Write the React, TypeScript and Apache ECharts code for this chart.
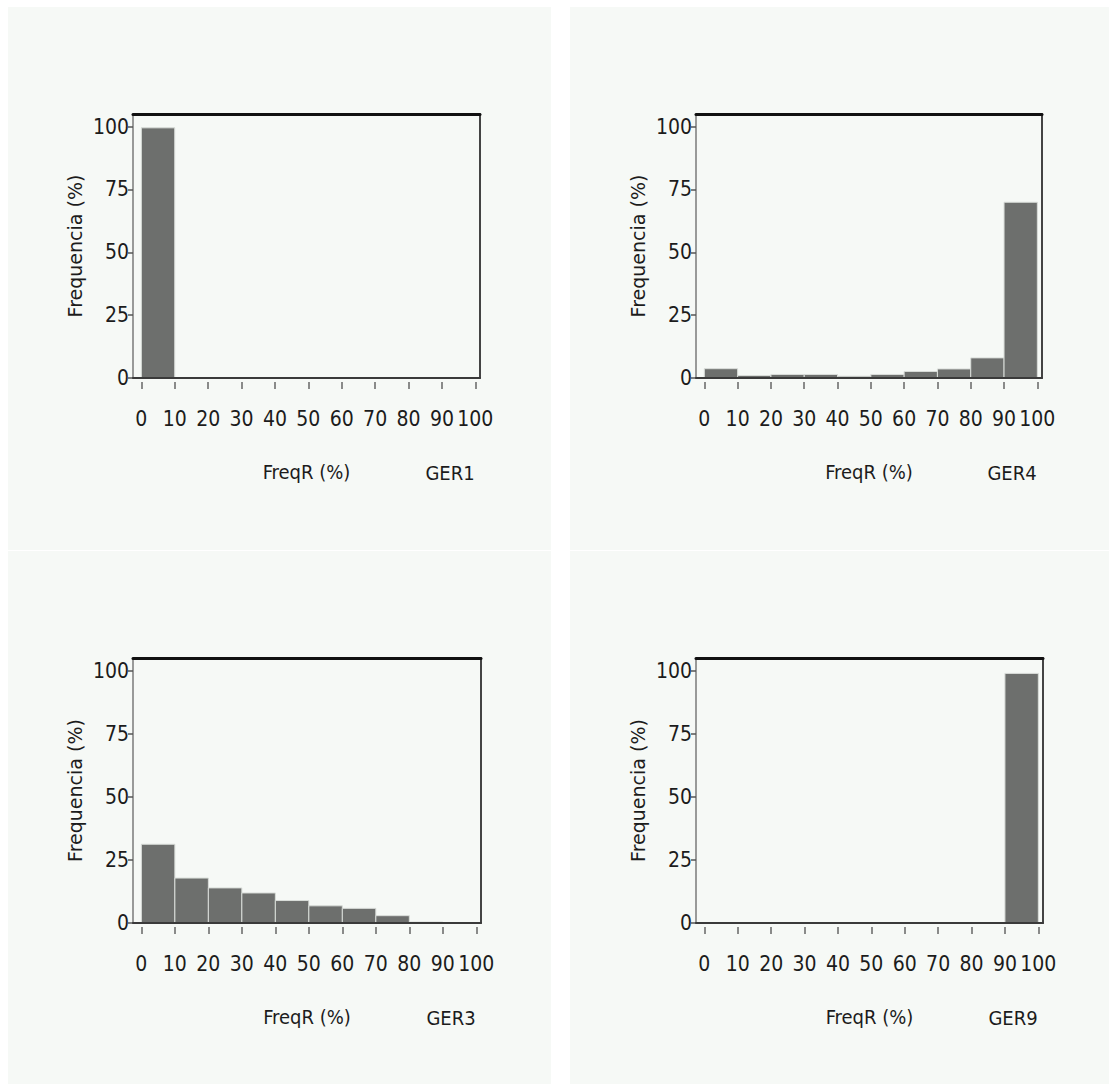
import React, { useEffect, useRef } from "react";
import * as echarts from "echarts";

// ---- data ----
const binStarts = [0, 10, 20, 30, 40, 50, 60, 70, 80, 90];
const binWidth = 10;
const xTickValues = [0, 10, 20, 30, 40, 50, 60, 70, 80, 90, 100];
const yTickValues = [0, 25, 50, 75, 100];
const ger1 = [99.5, 0, 0, 0, 0, 0, 0, 0, 0, 0];
const ger4 = [3.7, 1.0, 1.4, 1.4, 0.7, 1.4, 2.6, 3.6, 8.0, 69.9];
const ger3 = [31.2, 17.8, 13.9, 11.9, 8.9, 6.8, 5.8, 2.9, 0.4, 0.1];
const ger9 = [0, 0, 0, 0, 0, 0, 0, 0, 0, 98.9];
const panelNames = ["GER1", "GER4", "GER3", "GER9"];
const panelValues = [ger1, ger4, ger3, ger9];
const xAxisTitle = "FreqR (%)";
const yAxisTitle = "Frequencia (%)";

// ---- layout ----
const panelRects = [
  { x: 8, y: 7, w: 543, h: 543 },
  { x: 570, y: 7, w: 539, h: 543 },
  { x: 8, y: 551, w: 543, h: 533 },
  { x: 570, y: 551, w: 539, h: 533 },
];
const gridRects = [
  { left: 133, top: 114, width: 347, height: 264 },
  { left: 696, top: 114, width: 346, height: 264 },
  { left: 133, top: 658, width: 348, height: 265 },
  { left: 696, top: 658, width: 347, height: 265 },
];
const X_MIN = -2.5;
const X_MAX = 101.4;
const Y_MAX = 105;
const NARROW = "'DejaVu Sans Condensed', 'Liberation Sans Narrow', sans-serif";
const TEXT = "#1c1c1c";

export default function App() {
  const ref = useRef<HTMLDivElement>(null);
  useEffect(() => {
    if (!ref.current) return;
    const chart = echarts.init(ref.current, undefined, { renderer: "svg" });
    const grid: any[] = [];
    const xAxis: any[] = [];
    const yAxis: any[] = [];
    const series: any[] = [];
    const graphic: any[] = [];

    panelRects.forEach((p) => {
      graphic.push({
        type: "rect",
        z: -10,
        silent: true,
        shape: { x: p.x, y: p.y, width: p.w, height: p.h },
        style: { fill: "#f6f9f6" },
      });
    });

    gridRects.forEach((g, i) => {
      grid.push({ left: g.left, top: g.top, width: g.width, height: g.height, show: false });
      // bottom frame line
      xAxis.push({
        gridIndex: i, type: "value", min: X_MIN, max: X_MAX, position: "bottom",
        axisLine: { show: true, onZero: false, lineStyle: { color: "#3a3a3a", width: 2 } },
        axisTick: { show: false }, axisLabel: { show: false }, splitLine: { show: false },
        z: 5,
      });
      // ticks + labels, offset below frame
      xAxis.push({
        gridIndex: i, type: "value", min: X_MIN, max: X_MAX, position: "bottom", offset: 4,
        axisLine: { show: false, onZero: false },
        axisTick: { show: true, length: 7, customValues: xTickValues, lineStyle: { color: "#666", width: 1.5 } },
        axisLabel: { show: true, customValues: xTickValues, margin: 26, fontSize: 21, fontFamily: NARROW, color: TEXT },
        splitLine: { show: false },
        name: xAxisTitle, nameLocation: "middle", nameGap: 80,
        nameTextStyle: { fontSize: 20, fontFamily: NARROW, color: TEXT },
      });
      // top frame line
      xAxis.push({
        gridIndex: i, type: "value", min: X_MIN, max: X_MAX, position: "top",
        axisLine: { show: true, onZero: false, lineStyle: { color: "#111", width: 3 } },
        axisTick: { show: false }, axisLabel: { show: false }, splitLine: { show: false },
      });
      yAxis.push({
        gridIndex: i, type: "value", min: 0, max: Y_MAX, position: "left",
        axisLine: { show: true, onZero: false, lineStyle: { color: "#7a7a7a", width: 1.5 } },
        axisTick: { show: true, length: 5, customValues: yTickValues, lineStyle: { color: "#555", width: 1.5 } },
        axisLabel: { show: true, customValues: yTickValues, margin: 4, fontSize: 21, fontFamily: NARROW, color: TEXT },
        splitLine: { show: false },
        name: yAxisTitle, nameLocation: "middle", nameGap: 49,
        nameTextStyle: { fontSize: 19, fontFamily: "'DejaVu Sans', sans-serif", color: TEXT },
      });
      yAxis.push({
        gridIndex: i, type: "value", min: 0, max: Y_MAX, position: "right",
        axisLine: { show: true, onZero: false, lineStyle: { color: "#444", width: 2 } },
        axisTick: { show: false }, axisLabel: { show: false }, splitLine: { show: false },
      });
      const data = binStarts.map((s, k) => [s, s + binWidth, panelValues[i][k]]);
      series.push({
        type: "custom",
        xAxisIndex: i * 3,
        yAxisIndex: i * 2,
        data,
        renderItem: (params: any, api: any) => {
          const v = api.value(2);
          if (!(v > 0)) return null;
          const p0 = api.coord([api.value(0), v]);
          const p1 = api.coord([api.value(1), 0]);
          return {
            type: "rect",
            shape: { x: p0[0], y: p0[1], width: p1[0] - p0[0], height: p1[1] - p0[1] },
            style: { fill: "#6d6f6d", stroke: "#d9ddd9", lineWidth: 1 },
          };
        },
      });
      graphic.push({
        type: "text",
        x: g.left + g.width - 30,
        y: g.top + g.height + 95,
        style: {
          text: panelNames[i], fontSize: 20, fontFamily: NARROW, fill: TEXT,
          align: "center", verticalAlign: "middle",
        },
      });
    });

    chart.setOption({
      animation: false,
      backgroundColor: "#ffffff",
      grid, xAxis, yAxis, series, graphic,
    });
    return () => chart.dispose();
  }, []);
  return (
    <div
      ref={ref}
      style={{ position: "fixed", left: 0, top: 0, width: 1109, height: 1086 }}
    />
  );
}
